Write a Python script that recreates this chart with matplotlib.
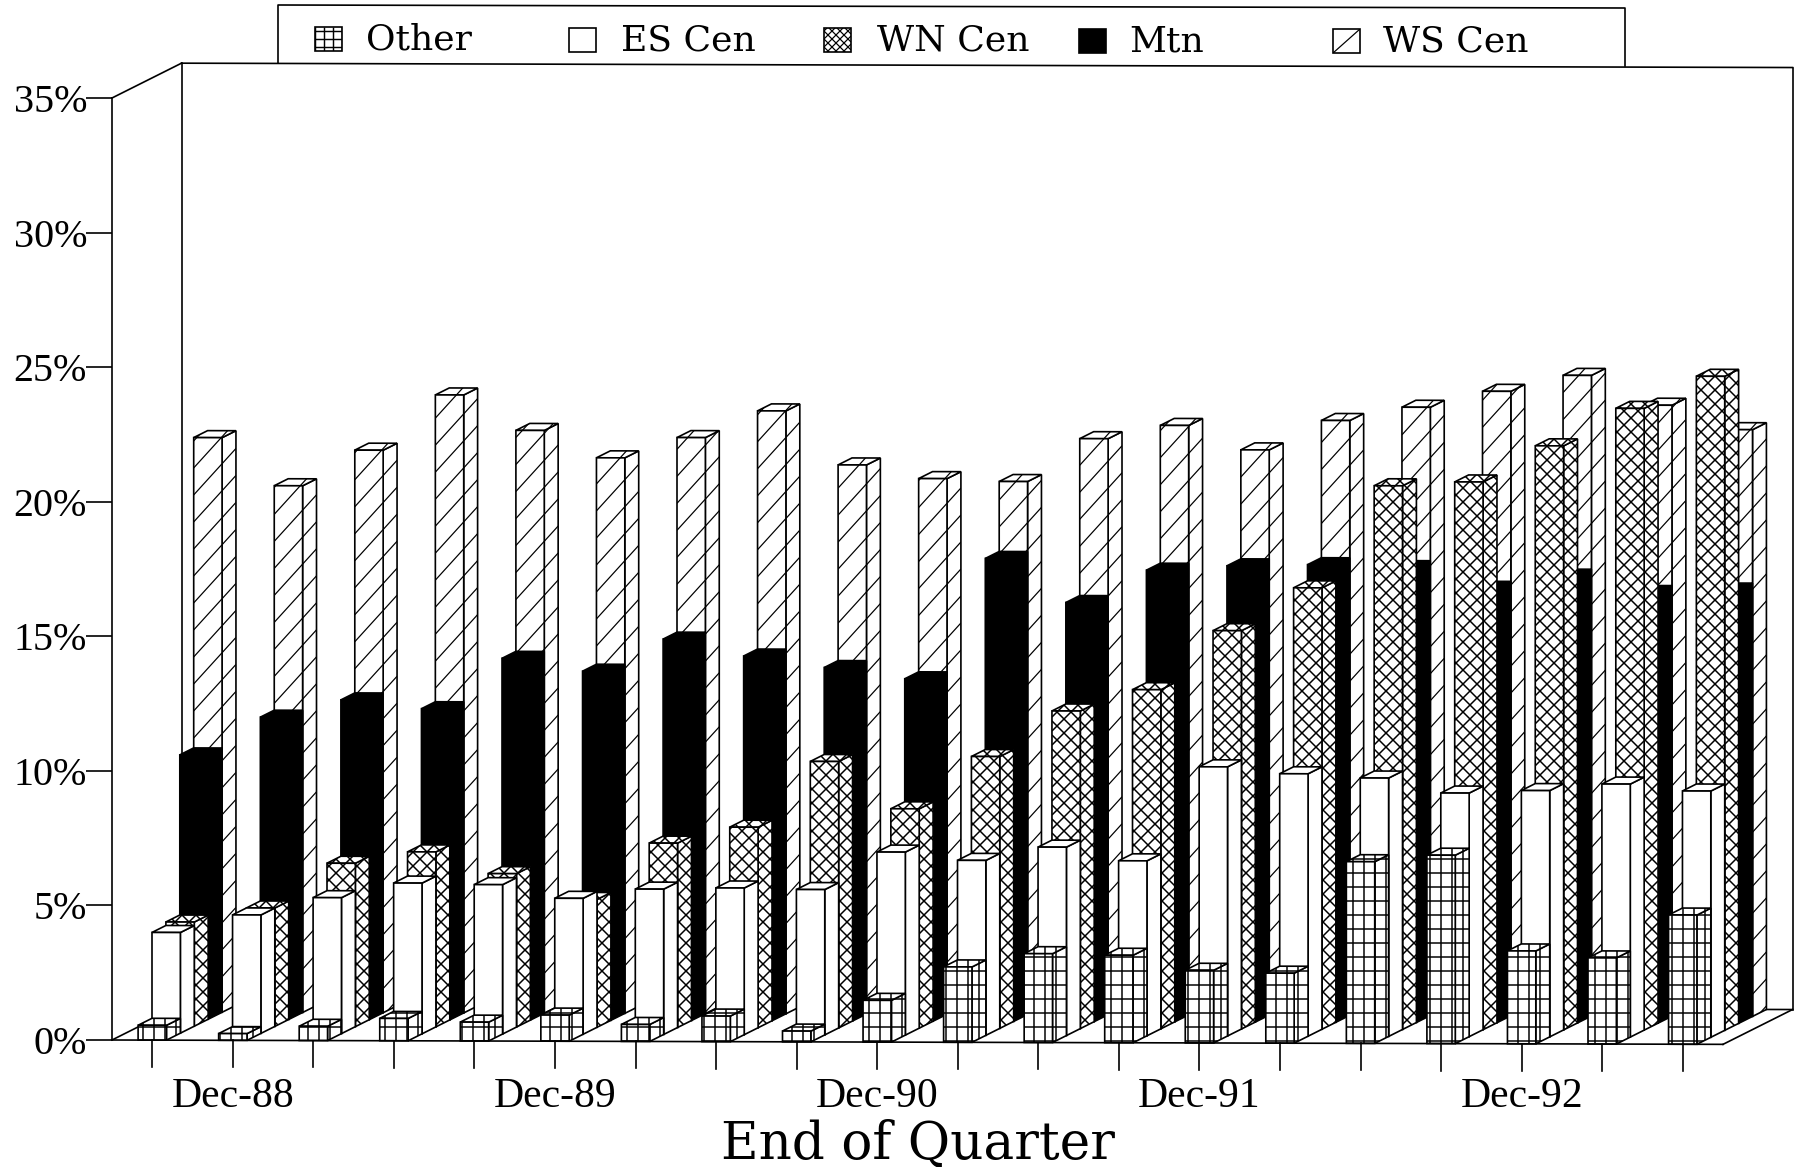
import numpy as np
import matplotlib
matplotlib.use("Agg")
import matplotlib.pyplot as plt
from matplotlib.patches import Polygon
from matplotlib.collections import LineCollection
from matplotlib.transforms import Affine2D, IdentityTransform

# ---- data -------------------------------------------------------------
series_names = ["Other", "ES Cen", "WN Cen", "Mtn", "WS Cen"]
other = [0.55, 0.25, 0.53, 0.83, 0.7, 0.97, 0.63, 0.95, 0.4, 1.55,
         2.8, 3.3, 3.25, 2.7, 2.6, 6.75, 7.0, 3.45, 3.2, 4.8]
es_cen = [3.74, 4.4, 5.05, 5.6, 5.55, 5.05, 5.4, 5.45, 5.4, 6.8,
          6.5, 7.0, 6.5, 10.0, 9.75, 9.6, 9.05, 9.15, 9.4, 9.15]
wn_cen = [3.87, 4.4, 6.07, 6.5, 5.7, 4.75, 6.85, 7.45, 9.9, 8.15,
          10.1, 11.8, 12.6, 14.8, 16.4, 20.2, 20.35, 21.7, 23.1, 24.3]
mtn = [9.82, 11.23, 11.88, 11.56, 13.44, 12.97, 14.17, 13.55, 13.13, 12.72,
       17.2, 15.57, 16.78, 16.95, 17.0, 16.9, 16.14, 16.6, 16.0, 16.1]
ws_cen = [21.35, 19.57, 20.9, 22.96, 21.65, 20.64, 21.4, 22.4, 20.4, 19.9,
          19.8, 21.4, 21.9, 21.0, 22.1, 22.6, 23.2, 23.8, 22.7, 21.8]
values = [other, es_cen, wn_cen, mtn, ws_cen]
y_ticks = [0, 5, 10, 15, 20, 25, 30, 35]
y_labels = ["0%", "5%", "10%", "15%", "20%", "25%", "30%", "35%"]
x_tick_pos = [1, 5, 9, 13, 17]
x_tick_labels = ["Dec-88", "Dec-89", "Dec-90", "Dec-91", "Dec-92"]
x_title = "End of Quarter"

# ---- layout / style ---------------------------------------------------
W, H, DPI = 1797, 1167, 80
AX_L, AX_R, AX_T, AX_B = 112, 1723, 98, 1040
TILT = 0.0027
BAR_W = 0.352
DX = 13.9 / ((AX_R - AX_L) / 20)       # one depth slot, in x units
DY = 7.0 / ((AX_B - AX_T) / 35)        # one depth slot, in y units
LW = 1.5
plt.rcParams["font.family"] = ["Liberation Serif", "DejaVu Serif"]

fig = plt.figure(figsize=((W + 0.01) / DPI, (H + 0.01) / DPI), dpi=DPI, facecolor="white")
ax = fig.add_axes([AX_L / W, 1 - AX_B / H, (AX_R - AX_L) / W, (AX_B - AX_T) / H])
ax.set_xlim(-0.5, 19.5)
ax.set_ylim(0, 35)
ax.patch.set_visible(False)
for name in ["top", "right", "bottom"]:
    ax.spines[name].set_visible(False)
ax.spines["left"].set_linewidth(LW)
ax.spines["left"].set_zorder(1)

ax.set_yticks(y_ticks, y_labels, fontsize=36)
ax.tick_params(axis="y", length=26 * 72 / DPI, width=LW, pad=-1)
ax.set_xticks(x_tick_pos, x_tick_labels, fontsize=37.5)
ax.tick_params(axis="x", length=0, pad=34)
ax.set_xlabel(x_title, fontsize=46.5, family="DejaVu Serif", labelpad=2.5)

# slight sheet tilt: y in display drops as x grows
tilt = Affine2D(np.array([[1, 0, 0], [-TILT, 1, TILT * AX_L], [0, 0, 1]], dtype=float))
tr = ax.transData + tilt


def line(xs, ys, z=1, lw=LW):
    ax.plot(xs, ys, color="black", lw=lw, transform=tr, clip_on=False, zorder=z,
            solid_capstyle="projecting")


# walls and floor
D5X, D5Y = 5 * DX, 5 * DY
line([-0.5, -0.5 + D5X], [35, 35 + D5Y])
line([-0.5, -0.5 + D5X], [0, D5Y])
line([-0.5 + D5X, -0.5 + D5X], [D5Y, 35 + D5Y])
line([-0.5 + D5X, 19.5 + D5X], [35 + D5Y, 35 + D5Y])
line([19.5 + D5X, 19.5 + D5X], [D5Y, 35 + D5Y])
line([-0.5 + D5X, 19.5 + D5X], [D5Y, D5Y])
line([19.5, 19.5 + D5X], [0, D5Y])
line([-0.5, 19.5], [0, 0], z=500)
for i in range(20):
    line([i, i], [0, -1.0], z=500)

face_colors = {"Other": "white", "ES Cen": "white", "WN Cen": "white", "Mtn": "black", "WS Cen": "white"}
# shading: per-face line families, (slope or 'h'/'v', spacing in px, linewidth)
shade = {
    "Other": [("h", 14.0, 1.35), ("v", 11.0, 1.35)],
    "ES Cen": [],
    "WN Cen": [(1.0, 14.0, 1.35), (-1.0, 14.0, 1.35)],
    "Mtn": [],
    "WS Cen": [(1.1, 27.0, 1.1)],
}
legend_shade = {
    "Other": [("h", 8.0, 1.3), ("v", 9.0, 1.3)],
    "ES Cen": [],
    "WN Cen": [(1.0, 8.0, 1.1), (-1.0, 8.0, 1.1)],
    "Mtn": [],
    "WS Cen": [(0.89, 72.4, 1.1)],
}


def shade_face(poly, families, parent):
    """Draw a face's shading lines, clipped to the face."""
    pts = poly.get_transform().transform(poly.get_xy())
    x0, x1 = pts[:, 0].min(), pts[:, 0].max()
    y0, y1 = pts[:, 1].min(), pts[:, 1].max()
    for kind, spacing, lw in families:
        if kind == "h":
            ys = np.arange(np.ceil(y0 / spacing), np.floor(y1 / spacing) + 1) * spacing
            segs = [[(x0, y), (x1, y)] for y in ys]
        elif kind == "v":
            xs = np.arange(np.ceil(x0 / spacing), np.floor(x1 / spacing) + 1) * spacing
            segs = [[(x, y0), (x, y1)] for x in xs]
        else:
            corners = [y - kind * x for x in (x0, x1) for y in (y0, y1)]
            cs = np.arange(np.floor(min(corners) / spacing), np.ceil(max(corners) / spacing) + 1) * spacing
            segs = [[(x0, kind * x0 + c), (x1, kind * x1 + c)] for c in cs]
        if not segs:
            continue
        lc = LineCollection(segs, colors="black", linewidths=lw, transform=IdentityTransform(),
                            zorder=poly.get_zorder() + 0.5)
        parent.add_artist(lc)
        lc.set_clip_path(poly)
        lc.set_clip_box(fig.bbox)


z = 2
for k in reversed(range(len(series_names))):
    nm = series_names[k]
    for i, v in enumerate(values[k]):
        left = i - BAR_W / 2 + k * DX
        right = left + BAR_W
        base = k * DY
        top = v + base
        faces = [
            [(right, base), (right + DX, base + DY), (right + DX, top + DY), (right, top)],
            [(left, top), (right, top), (right + DX, top + DY), (left + DX, top + DY)],
            [(left, base), (right, base), (right, top), (left, top)],
        ]
        for f in faces:
            p = Polygon(f, closed=True, facecolor=face_colors[nm], edgecolor="none", transform=tr,
                        clip_on=False, zorder=z)
            ax.add_patch(p)
            shade_face(p, shade[nm], ax)
            outline = Polygon(f, closed=True, fill=False, edgecolor="black", linewidth=LW,
                              transform=tr, clip_on=False, zorder=z + 0.8, joinstyle="miter")
            ax.add_patch(outline)
            z += 1

# ---- legend box -------------------------------------------------------
px = Affine2D().scale(1, -1).translate(0, H)
LEG_L, LEG_R, LEG_T, LEG_B = 278, 1625, 5, 63
fig.add_artist(plt.Line2D([LEG_L, LEG_L, LEG_R, LEG_R], [LEG_B, LEG_T, LEG_T + 3, LEG_B + 3],
                          color="black", lw=LW, transform=px))
sym_x = [315, 569, 824, 1079, 1333]
txt_x = [366, 621, 877, 1129, 1383]
ry = [39, 40, 40, 41, 41]
for nm, sx, tx, yc in zip(series_names, sym_x, txt_x, ry):
    corners = [(sx, yc - 12), (sx + 27, yc - 12), (sx + 27, yc + 12), (sx, yc + 12)]
    r = Polygon(corners, closed=True, facecolor=face_colors[nm], edgecolor="none", transform=px)
    fig.add_artist(r)
    shade_face(r, legend_shade[nm], fig)
    fig.add_artist(Polygon(corners, closed=True, fill=False, edgecolor="black", linewidth=LW,
                           transform=px, zorder=3))
    fig.text(tx, yc, nm, transform=px, fontsize=32.5, family="DejaVu Serif",
             ha="left", va="center")

fig.savefig("out.png", dpi=DPI, facecolor="white")
